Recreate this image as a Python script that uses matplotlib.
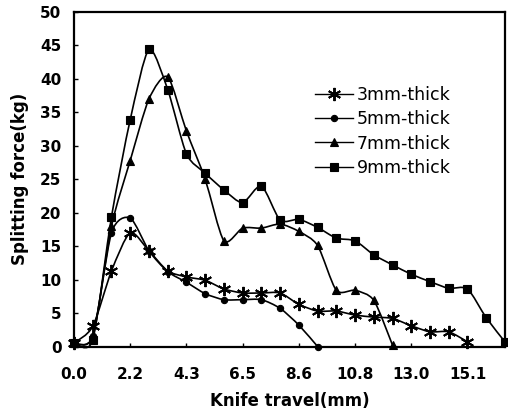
import matplotlib
matplotlib.use("Agg")
import matplotlib.pyplot as plt
import numpy as np
from matplotlib.lines import Line2D
from matplotlib.path import Path
from matplotlib.patches import PathPatch

# knife travel (mm) at each measured step
travel = [0.00, 0.72, 1.44, 2.16, 2.88, 3.60, 4.32, 5.04, 5.76, 6.48, 7.20, 7.92,
          8.64, 9.36, 10.08, 10.80, 11.52, 12.24, 12.96, 13.68, 14.40, 15.12, 15.84, 16.56]

force_3mm = [0.5, 3.0, 11.3, 17.0, 14.3, 11.3, 10.4, 9.9, 8.6, 8.0, 8.0, 8.0,
             6.3, 5.3, 5.3, 4.7, 4.4, 4.2, 3.1, 2.2, 2.2, 0.7]
force_5mm = [0.5, 1.5, 17.0, 19.2, 14.3, 11.2, 9.6, 7.9, 7.0, 7.0, 7.0, 5.7,
             3.2, 0.0]
force_7mm = [0.5, 1.5, 18.0, 27.8, 37.0, 40.3, 32.2, 25.0, 15.8, 17.7, 17.7, 18.3,
             17.2, 15.1, 8.4, 8.4, 6.9, 0.2]
force_9mm = [0.5, 1.0, 19.4, 33.9, 44.4, 38.4, 28.8, 25.9, 23.4, 21.5, 24.0, 18.9,
             19.0, 17.8, 16.2, 15.8, 13.7, 12.2, 10.8, 9.7, 8.7, 8.6, 4.3, 0.7]

labels = ["3mm-thick", "5mm-thick", "7mm-thick", "9mm-thick"]
tick_labels = ["0.0", "2.2", "4.3", "6.5", "8.6", "10.8", "13.0", "15.1"]


def smooth_path(x, y, k=8.0):
    """Bezier path through the points, a mild 'smoothed line'."""
    pts = np.column_stack([x, y])
    n = len(pts)
    verts = [pts[0]]
    codes = [Path.MOVETO]
    for i in range(n - 1):
        p0 = pts[i - 1] if i > 0 else pts[i]
        p1, p2 = pts[i], pts[i + 1]
        p3 = pts[i + 2] if i + 2 < n else pts[i + 1]
        verts += [p1 + (p2 - p0) / k, p2 - (p3 - p1) / k, p2]
        codes += [Path.CURVE4] * 3
    return Path(verts, codes)


fig = plt.figure(figsize=(5.08, 4.19), dpi=100)
ax = fig.add_axes([0.1457, 0.173, 0.8483, 0.7984])

series = [
    (force_3mm, dict(marker=(6, 2, 0), ms=9.5, mew=1.4)),
    (force_5mm, dict(marker="o", ms=4.5, mew=0.8)),
    (force_7mm, dict(marker="^", ms=5.5, mew=0.8)),
    (force_9mm, dict(marker="s", ms=6.2, mew=0.8)),
]
handles = []
for (vals, mk), lab in zip(series, labels):
    xs = travel[:len(vals)]
    ax.add_patch(PathPatch(smooth_path(xs, vals), fill=False, edgecolor="black",
                           linewidth=1.2, transform=ax.transData, clip_on=False))
    ax.plot(xs, vals, linestyle="none", color="black", mfc="black", mec="black",
            clip_on=False, **mk)
    handles.append(Line2D([], [], color="black", linewidth=1.0, mfc="black",
                          mec="black", label=lab, **mk))

ax.set_xlim(travel[0], travel[-1])
ax.set_ylim(0, 50)
ax.set_xticks(travel[::3])
ax.set_xticklabels(tick_labels)
ax.set_yticks(np.arange(0, 51, 5))
ax.tick_params(axis="x", direction="in", length=3, width=1, pad=15)
ax.tick_params(axis="y", direction="in", length=3, width=1, pad=9)
for lbl in ax.get_xticklabels() + ax.get_yticklabels():
    lbl.set_fontsize(11)
    lbl.set_fontweight("bold")
for sp in ax.spines.values():
    sp.set_linewidth(1.6)

ax.set_xlabel("Knife travel(mm)", fontsize=12, fontweight="bold", labelpad=7)
ax.set_ylabel("Splitting force(kg)", fontsize=12, fontweight="bold", labelpad=8)

fig.legend(handles=handles, loc="upper left", bbox_to_anchor=(315 / 508, 1 - 86 / 419),
           frameon=False, fontsize=12.5, handlelength=2.2, handletextpad=0.2,
           labelspacing=0.36, borderpad=0, borderaxespad=0)

fig.savefig("out.png", dpi=100)
